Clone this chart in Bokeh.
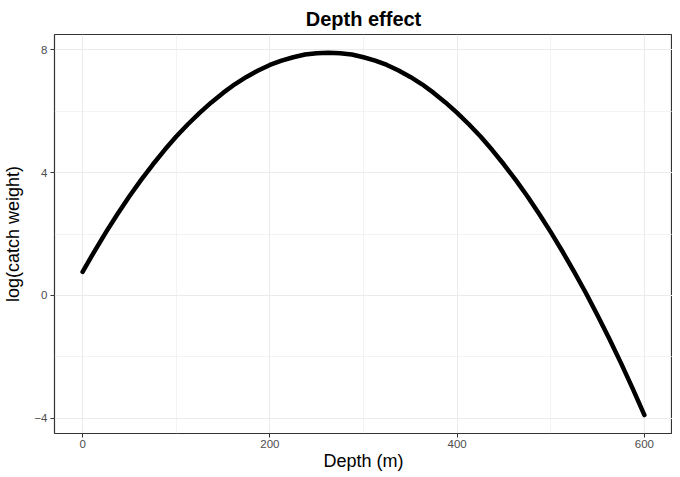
from bokeh.plotting import figure
from bokeh.models import Range1d, FixedTicker
from bokeh.embed import file_html
from bokeh.resources import INLINE

depth = [0, 12.5, 25, 37.5, 50, 62.5, 75, 87.5, 100, 112.5, 125, 137.5, 150,
         162.5, 175, 187.5, 200, 212.5, 225, 237.5, 250, 262.5, 275, 287.5, 300,
         312.5, 325, 337.5, 350, 362.5, 375, 387.5, 400, 412.5, 425, 437.5, 450,
         462.5, 475, 487.5, 500, 512.5, 525, 537.5, 550, 562.5, 575, 587.5, 600]
log_catch = [0.77, 1.43, 2.06, 2.66, 3.23, 3.76, 4.26, 4.73, 5.17, 5.57, 5.94, 6.28, 6.59,
             6.87, 7.11, 7.32, 7.50, 7.64, 7.75, 7.84, 7.88, 7.90, 7.88, 7.84, 7.75,
             7.64, 7.50, 7.32, 7.11, 6.87, 6.59, 6.28, 5.94, 5.57, 5.17, 4.73, 4.26,
             3.76, 3.23, 2.66, 2.06, 1.43, 0.77, 0.08, -0.65, -1.41, -2.20, -3.03, -3.89]
x_ticks = [0, 200, 400, 600]
x_minor = [100, 300, 500]
y_ticks = [-4, 0, 4, 8]
y_minor = [-2, 2, 6]

FONT = "Liberation Sans"

p = figure(frame_width=618, frame_height=399, output_backend="svg", toolbar_location=None,
           x_range=Range1d(-30, 630), y_range=Range1d(-4.49, 8.49),
           title="Depth effect", min_border_left=44, min_border_right=0,
           min_border_top=4, min_border_bottom=0)

p.title.align = "center"
p.title.text_font = FONT
p.title.text_font_style = "bold"
p.title.text_font_size = "20px"
p.title.text_color = "black"

p.line(depth, log_catch, line_width=4.5, line_color="black", line_join="round", line_cap="round")

p.xaxis.ticker = FixedTicker(ticks=x_ticks, minor_ticks=x_minor)
p.yaxis.ticker = FixedTicker(ticks=y_ticks, minor_ticks=y_minor)

for ax in (p.xaxis, p.yaxis):
    ax.axis_line_color = None
    ax.major_tick_line_color = "#333333"
    ax.major_tick_in = 0
    ax.major_tick_out = 4
    ax.minor_tick_line_color = None
    ax.major_label_text_font = FONT
    ax.major_label_text_font_size = "11.5px"
    ax.major_label_text_color = "#4D4D4D"
    ax.axis_label_text_font = FONT
    ax.axis_label_text_font_size = "18px"
    ax.axis_label_text_font_style = "normal"
    ax.axis_label_text_color = "black"

p.xaxis.axis_label = "Depth (m)"
p.yaxis.axis_label = "log(catch weight)"
p.xaxis.major_label_standoff = 2
p.yaxis.major_label_standoff = 3
p.xaxis.axis_label_standoff = 0
p.yaxis.axis_label_standoff = 8

for g in (p.xgrid, p.ygrid):
    g.grid_line_color = "#EBEBEB"
    g.grid_line_width = 1
    g.minor_grid_line_color = "#EBEBEB"
    g.minor_grid_line_width = 0.6

p.outline_line_color = "#333333"
p.outline_line_width = 1.2
p.background_fill_color = "white"
p.border_fill_color = "white"

open("out.html", "w").write(file_html(p, INLINE))
